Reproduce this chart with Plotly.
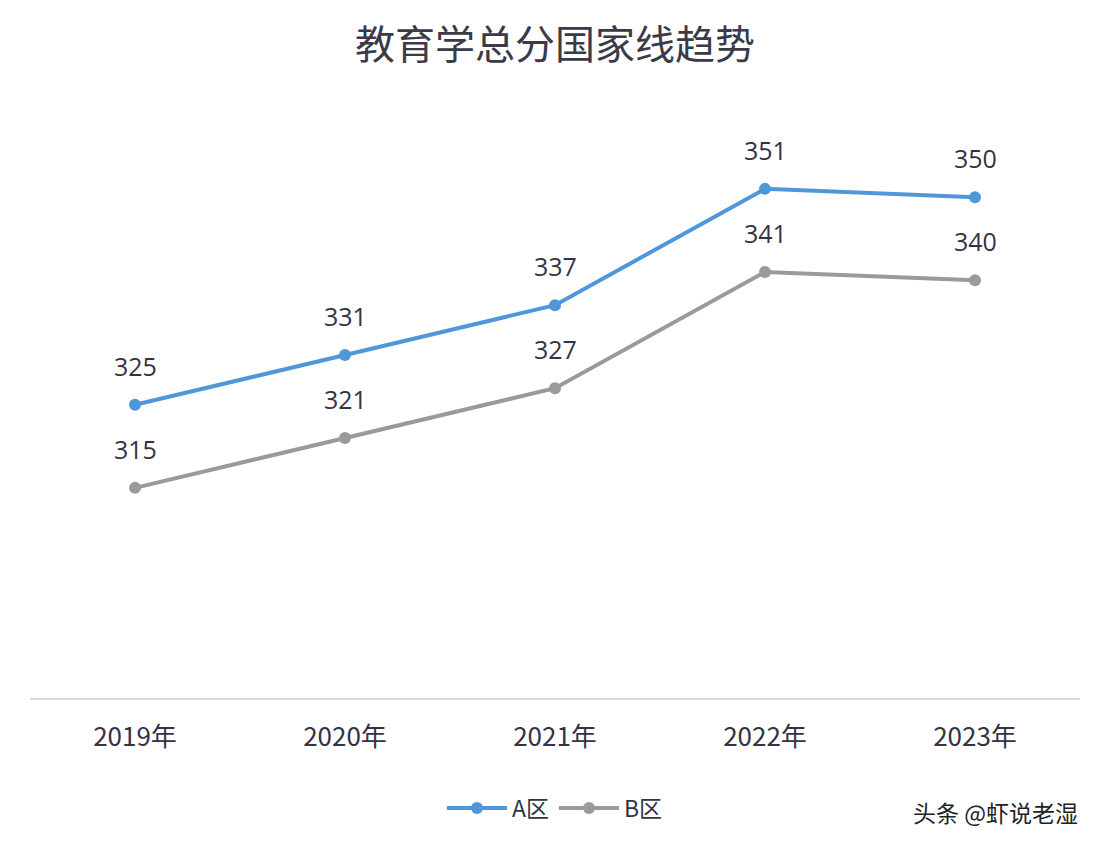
import plotly.graph_objects as go

years = ["2019年", "2020年", "2021年", "2022年", "2023年"]
a_vals = [325, 331, 337, 351, 350]
b_vals = [315, 321, 327, 341, 340]

fig = go.Figure()
anns = []
for name, vals, col in [("A区", a_vals, "#4f97d9"), ("B区", b_vals, "#9a9a9a")]:
    fig.add_trace(go.Scatter(
        x=years, y=vals, name=name, mode="lines+markers",
        line=dict(color=col, width=4), marker=dict(size=12, color=col),
    ))
    for x, v in zip(years, vals):
        anns.append(dict(x=x, y=v, text=str(v), showarrow=False, yshift=39,
                         font=dict(size=25, color="#333344", family="Open Sans")))

anns.append(dict(text="头条 @虾说老湿", xref="paper", yref="paper", x=1.0, y=-0.19,
                 xanchor="right", yanchor="middle", showarrow=False,
                 font=dict(size=23, color="#222222", family="Noto Sans CJK SC")))

fig.update_layout(
    width=1110, height=858,
    margin=dict(l=22, r=38, t=92, b=168),
    paper_bgcolor="white", plot_bgcolor="white",
    title=dict(text="教育学总分国家线趋势", x=0.5, xref="paper", y=1 - 37 / 858, yref="container",
               xanchor="center", yanchor="middle",
               font=dict(size=40, color="#3a3a48", family="Noto Sans CJK SC")),
    xaxis=dict(range=[-0.5, 4.5], showgrid=False, showline=True, linecolor="#d9d9d9", linewidth=1.5,
               ticks="", tickfont=dict(size=26, color="#333344", family="Noto Sans CJK SC"), ticklabelstandoff=15),
    yaxis=dict(range=[289.7, 361.7], visible=False),
    showlegend=True,
    legend=dict(orientation="h", x=0.5, xanchor="center", xref="paper", yref="container", y=58 / 858,
                yanchor="middle", itemwidth=60,
                font=dict(size=23, color="#333344", family="Noto Sans CJK SC")),
    annotations=anns,
)
fig.write_html("out.html")
